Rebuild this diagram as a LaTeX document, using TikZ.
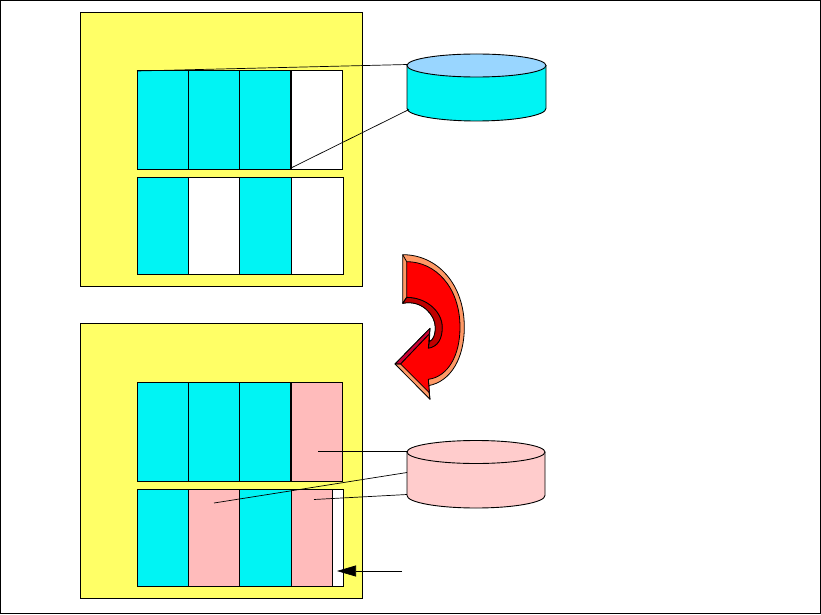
\documentclass[tikz,border=0pt]{standalone}
\usetikzlibrary{arrows.meta}
\definecolor{cellcyan}{HTML}{00F4F4}
\definecolor{panely}{HTML}{FFFF66}
\definecolor{cellpink}{HTML}{FFBBBB}
\definecolor{cylpink}{HTML}{FFCCCC}
\definecolor{cyltop}{HTML}{99D6FF}
\definecolor{arrsalmon}{HTML}{FF9966}
\definecolor{arrdark}{HTML}{C00000}
\definecolor{arrcrim}{HTML}{CC0033}
\tikzset{
  panel/.style={draw=black,fill=panely,line width=0.9pt},
  cellbox/.style={draw=black,line width=1pt},
  link/.style={draw=black,line width=0.7pt},
  cylbody/.style={draw=black,line width=0.9pt},
}
\newcommand{\cyl}[5]{% xl xr topy boty fill
  \fill[#5] (#1,#3) -- (#1,#4) arc[start angle=180,end angle=0,x radius={(#2-#1)/2},y radius=12.5] -- (#2,#3) -- cycle;
  \draw[cylbody] (#1,#3) -- (#1,#4) arc[start angle=180,end angle=0,x radius={(#2-#1)/2},y radius=12.5] -- (#2,#3);
}
\begin{document}
\begin{tikzpicture}[x=1pt,y=-1pt]
\useasboundingbox (0,0) rectangle (821,615);
\draw[black,line width=0.9pt] (0.5,0.5) rectangle (820.3,613.5);
% panels
\draw[panel] (80.5,12.5) rectangle (362,286);
\draw[panel] (80.5,323.5) rectangle (362,598);
% upper panel, row 1
\fill[cellcyan] (137,71) rectangle (291,169);
\fill[white] (291,71) rectangle (342,169);
\draw[cellbox] (137,71) rectangle (342,169);
\draw[cellbox] (188,71) -- (188,169) (239,71) -- (239,169);
\draw[black,line width=1.2pt] (291,71) -- (291,169);
% upper panel, row 2
\fill[cellcyan] (137,177) rectangle (188,274) (239,177) rectangle (291,274);
\fill[white] (188,177) rectangle (239,274) (291,177) rectangle (343,274);
\draw[cellbox] (137,177) rectangle (343,274);
\draw[cellbox] (188,177) -- (188,274) (239,177) -- (239,274) (291,177) -- (291,274);
% lower panel, row 1
\fill[cellcyan] (137,382) rectangle (291,481);
\fill[cellpink] (291,382) rectangle (342,481);
\draw[cellbox] (137,382) rectangle (342,481);
\draw[cellbox] (188,382) -- (188,481) (239,382) -- (239,481);
\draw[black,line width=1.2pt] (291,382) -- (291,481);
% lower panel, row 2
\fill[cellcyan] (137,489) rectangle (188,586) (239,489) rectangle (291,586);
\fill[cellpink] (188,489) rectangle (239,586) (291,489) rectangle (332,586);
\fill[white] (332,489) rectangle (343,586);
\draw[cellbox] (137,489) rectangle (343,586);
\draw[cellbox] (188,489) -- (188,586) (239,489) -- (239,586) (291,489) -- (291,586) (332,489) -- (332,586);
% cylinders
\cyl{407}{546}{65.5}{108.5}{cellcyan}
\draw[cylbody,fill=cyltop] (476.5,65.5) ellipse [x radius=69.5,y radius=11.5];
\cyl{407}{545}{452}{495.5}{cylpink}
\draw[cylbody,fill=cylpink] (476,452) ellipse [x radius=69,y radius=11.5];
% named ends
\coordinate (a1) at (137,71); \coordinate (a2) at (407.5,64.5);
\coordinate (b1) at (291,168); \coordinate (b2) at (409,109.5);
\coordinate (c1) at (318,451); \coordinate (c2) at (407.5,451);
\coordinate (d1) at (214,503); \coordinate (d2) at (407,472.5);
\coordinate (e1) at (314,499.5); \coordinate (e2) at (407,494.5);
\coordinate (f1) at (402,571); \coordinate (f2) at (337,571);
\draw[link] (a1) -- (a2);
\draw[link] (b1) -- (b2);
\draw[link] (c1) -- (c2);
\draw[link] (d1) -- (d2);
\draw[link] (e1) -- (e2);
\draw[link,-{Triangle[length=19pt,width=11pt]}] (f1) -- (f2);
% curved arrow (in the 3x coordinates of a crop at 380,240)
\begin{scope}[shift={(380,240)},x=0.3333pt,y=-0.3333pt,line width=0.8pt,line join=round]
  % salmon back
  \draw[fill=arrsalmon] (68,44) .. controls (170,44) and (253,130) .. (253,262)
     .. controls (253,350) and (215,425) .. (145,437) -- (150,478) -- (45,372) -- (150,265) -- (148,305)
     .. controls (160,300) and (166,285) .. (166,262)
     .. controls (166,225) and (125,178) .. (68,190) -- cycle;
  % inner dark band
  \draw[fill=arrdark] (68,190) .. controls (125,178) and (166,225) .. (166,262)
     .. controls (166,285) and (160,300) .. (148,305) -- (145,325)
     .. controls (175,320) and (187,295) .. (187,262)
     .. controls (187,215) and (140,172) .. (80,172) -- cycle;
  % dark head edges
  \draw[fill=arrcrim] (45,372) -- (150,265) -- (148,282) -- (62,372) -- cycle;
  \draw[fill=arrcrim] (150,478) -- (145,437) -- (145,418) -- (148,458) -- cycle;
  % red face
  \draw[fill=red] (80,65) .. controls (165,65) and (240,140) .. (240,262)
     .. controls (240,345) and (205,410) .. (145,418) -- (148,458) -- (62,372) -- (148,282) -- (145,325)
     .. controls (175,320) and (187,295) .. (187,262)
     .. controls (187,215) and (140,172) .. (80,172) -- cycle;
  \draw (68,44) -- (80,65) (68,190) -- (80,172) (45,372) -- (62,372);
\end{scope}
\end{tikzpicture}
\end{document}
